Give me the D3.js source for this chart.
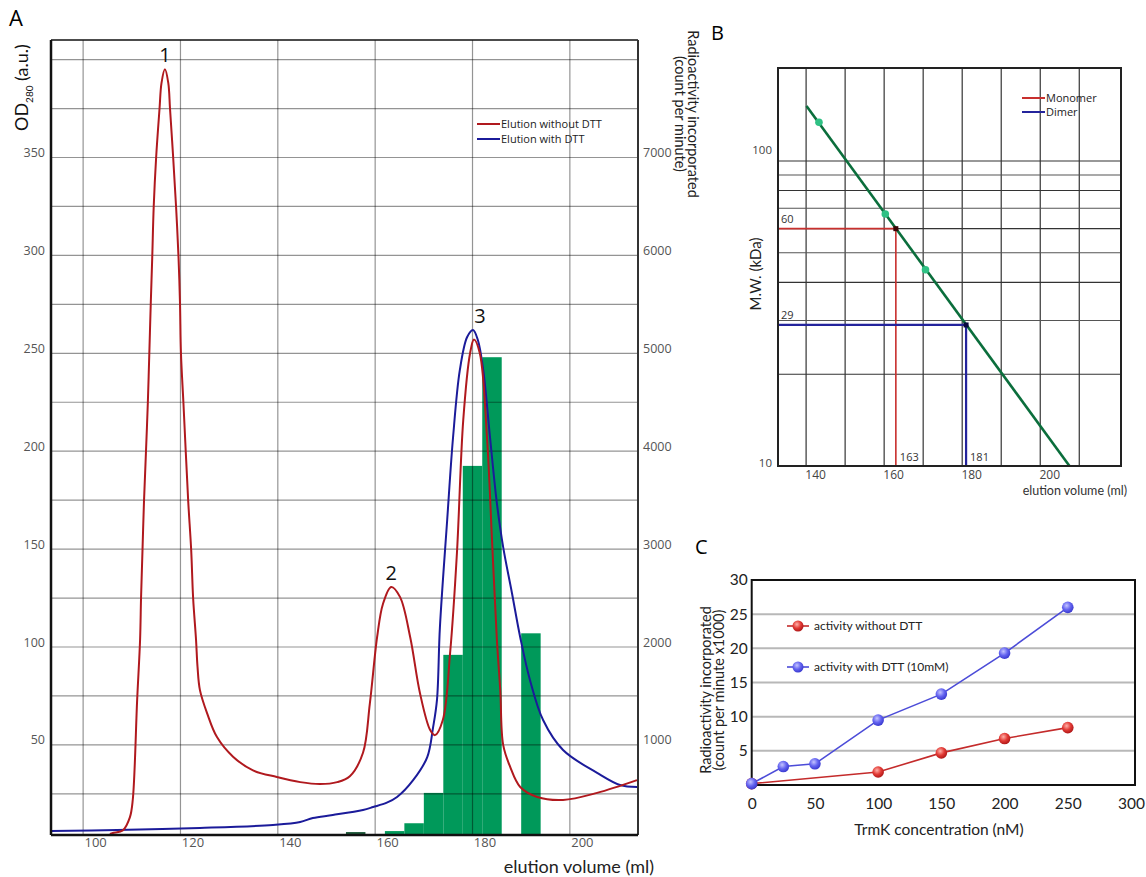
<!DOCTYPE html>
<html><head><meta charset="utf-8">
<script src="https://cdn.jsdelivr.net/npm/d3@7"></script>
<style>body{margin:0;background:#fff}svg{display:block}</style>
</head><body>
<svg id="c" width="1146" height="877"></svg>
<script>
// ---------- Panel A data ----------
const redElution = [ // [ml, OD280] without DTT
 [105.5,4.5],[106.1,5],[108.2,6.5],[109.6,13],[110.2,22],[111.1,73],[111.7,103.6],[111.9,125],[112.2,149.6],
 [112.5,174],[112.9,199],[113.3,225],[113.6,250],[113.9,275.7],[114.2,299],[114.5,324.7],[115.0,350],[115.7,375],
 [116.1,388],[116.8,395],[117.5,388],[117.85,375],[118.5,350],[119.1,324.7],[119.6,299],[119.9,275.7],[120.1,250],
 [120.6,225],[121.1,199],[121.6,174],[122.2,149.6],[122.6,125],[123.2,103.6],[123.5,90],[124.0,78],[125.5,66],
 [127.5,54],[130.8,44],[134.9,37],[139.8,33.6],
 [144.6,31],[148.7,30],[152.2,31],[154.8,34],[157.5,46],[158.9,71],[160.4,105],[161.6,122],[163.3,130.7],
 [165.1,125.6],[167.2,105],[169.2,76.5],[171.3,57.6],[172.3,55],[173.9,62.7],[175.4,97],[176.8,148],
 [178.1,216],[179.5,250],[180.3,257],[181.5,250],[183.0,206],[184.0,155],[185.0,104],[185.7,78],[186.3,50],
 [187.7,39],[189.8,28.5],[193.3,23.4],[198.6,21.9],[205.6,25.5],[213.8,32]
];
const blueElution = [ // [ml, OD280] with DTT
 [93.4,6],[107,6.6],[124,7.6],[139,9.1],[144.6,10.6],[147.2,12.7],[151.3,14.2],[157.5,16.8],[159.6,18.3],
 [162.4,20.5],[164.5,23.4],[167.8,32],[170.7,43.8],[171.9,59],[172.7,73],[173.3,110],[174.8,165],[176.0,207],
 [177.4,241.5],[178.9,258.3],[180.1,261.9],[181.1,256.8],[182.2,241.5],[183.6,207],[185.0,173.6],[186.3,151],
 [188.1,127.6],[189.8,105],[191.8,83.2],[194.5,62.7],[198.6,47.4],[205.6,35.7],[210.3,29.5],[213.8,28.5]
];
const fractionStart = [154,162,166,170,174,178,182,190];
const fractionEnd   = [158,166,170,174,178,182,186,194];
const fractionCpm   = [110,120,200,510,1920,3850,4960,2140];
const peakNames = ["1","2","3"];
const peakMl = [116.8,163.3,180.3];
const peakOD = [395,130.7,262];
const xTicksA = [100,120,140,160,180,200];
const yTicksA = [50,100,150,200,250,300,350];
const yTicksAR = [1000,2000,3000,4000,5000,6000,7000];
const legendA = ["Elution without DTT","Elution with DTT"];

// ---------- Panel B data ----------
const fitVolume = [140.1,207.5];
const fitMW = [151.4,10];
const calibVolume = [143.3,160.3,170.6];
const calibMW = [134,67,44];
const formNames = ["Monomer","Dimer"];
const formVolume = [163,181];
const formMW = [60,29];
const xTicksB = [140,160,180,200];
const yTicksB = [10,100];

// ---------- Panel C data ----------
const concNoDTT = [0,100,150,200,250];
const actNoDTT  = [0.2,1.9,4.7,6.8,8.4];
const concDTT = [0,25,50,100,150,200,250];
const actDTT  = [0.2,2.7,3.1,9.5,13.3,19.3,26];
const xTicksC = [0,50,100,150,200,250,300];
const yTicksC = [5,10,15,20,25,30];
const legendC = ["activity without DTT","activity with DTT (10mM)"];

const svg = d3.select("#c");
const F = "'Open Sans', sans-serif";
const L = "Lato, 'Open Sans', sans-serif";
const RED = "#b0191e", BLUE = "#1b1b9a";

// ================= PANEL A =================
const A = {l:51,r:638,t:40,b:835};
const xA = d3.scaleLinear([93.4,214],[A.l,A.r]);
const yA = d3.scaleLinear([4,410],[A.b,A.t]);
const yAR = d3.scaleLinear([80,8200],[A.b,A.t]);
const gA = svg.append("g");
const defs = svg.append("defs");
defs.append("clipPath").attr("id","clipA")
  .append("rect").attr("x",A.l).attr("y",A.t).attr("width",A.r-A.l).attr("height",A.b-A.t);

// bars
gA.append("g").selectAll("rect").data(fractionCpm).join("rect")
  .attr("x",(d,i)=>xA(fractionStart[i]))
  .attr("width",(d,i)=>xA(fractionEnd[i])-xA(fractionStart[i]))
  .attr("y",d=>yAR(d)).attr("height",d=>yAR(80)-yAR(d))
  .attr("fill",(d,i)=>i===0?"#1d5a3a":"#00995a");

// grid
const gridA = gA.append("g").attr("stroke","#000").attr("stroke-opacity",0.42).attr("stroke-width",1.2);
gridA.selectAll("line.v").data(xTicksA).join("line").attr("class","v")
  .attr("x1",d=>xA(d)).attr("x2",d=>xA(d)).attr("y1",A.t).attr("y2",A.b);
gridA.selectAll("line.h").data(d3.range(25,401,25)).join("line").attr("class","h")
  .attr("y1",d=>yA(d)).attr("y2",d=>yA(d)).attr("x1",A.l).attr("x2",A.r);

// curves
const lineA = d3.line().x(d=>xA(d[0])).y(d=>yA(d[1])).curve(d3.curveCatmullRom.alpha(0.5));
gA.append("path").datum(blueElution).attr("d",lineA).attr("fill","none").attr("stroke",BLUE).attr("stroke-width",2).attr("clip-path","url(#clipA)");
gA.append("path").datum(redElution).attr("d",lineA).attr("fill","none").attr("stroke",RED).attr("stroke-width",2).attr("clip-path","url(#clipA)");

// frame
gA.append("line").attr("x1",A.l).attr("x2",A.r).attr("y1",A.t).attr("y2",A.t).attr("stroke","#111").attr("stroke-width",1.6);
gA.append("line").attr("x1",A.r).attr("x2",A.r).attr("y1",A.t).attr("y2",A.b).attr("stroke","#333").attr("stroke-width",2);
gA.append("line").attr("x1",A.l).attr("x2",A.l).attr("y1",A.t).attr("y2",A.b).attr("stroke","#111").attr("stroke-width",2.5);
gA.append("line").attr("x1",A.l).attr("x2",A.r).attr("y1",A.b).attr("y2",A.b).attr("stroke","#111").attr("stroke-width",2.5);

// axes labels
function styleAxis(g, size, color){
  g.select(".domain").remove();
  g.selectAll("line").remove();
  g.selectAll("text").attr("font-family",F).attr("font-size",size).attr("fill",color);
}
const axBA = gA.append("g").attr("transform",`translate(0,${A.b})`)
  .call(d3.axisBottom(xA).tickValues(xTicksA).tickSize(0).tickPadding(3));
styleAxis(axBA,13,"#555"); axBA.selectAll("text").attr("dx",12);
const axLA = gA.append("g").attr("transform",`translate(${A.l},0)`)
  .call(d3.axisLeft(yA).tickValues(yTicksA).tickSize(0).tickPadding(6));
styleAxis(axLA,12.5,"#555"); axLA.selectAll("text").attr("dy","-0.08em");
const axRA = gA.append("g").attr("transform",`translate(${A.r},0)`)
  .call(d3.axisRight(yAR).tickValues(yTicksAR).tickFormat(d3.format("d")).tickSize(0).tickPadding(5));
styleAxis(axRA,12.5,"#555"); axRA.selectAll("text").attr("dy","-0.08em");

// titles
svg.append("text").attr("x",9).attr("y",26).attr("font-family",F).attr("font-size",22).text("A");
const od = svg.append("text").attr("transform","translate(28,131) rotate(-90)").attr("font-family",L).attr("font-size",18).attr("fill","#111");
od.append("tspan").text("OD");
od.append("tspan").attr("font-size",10).attr("dy",5).text("280");
od.append("tspan").attr("dy",-5).text(" (a.u.)");
svg.append("text").attr("x",654).attr("y",873).attr("text-anchor","end").attr("font-family",L).attr("font-size",18).attr("fill","#222").text("elution volume (ml)");
const rt = svg.append("text").attr("transform","translate(688,114) rotate(90)").attr("text-anchor","middle").attr("font-family",L).attr("font-size",14.5).attr("fill","#222");
rt.append("tspan").attr("x",0).text("Radioactivity incorporated");
rt.append("tspan").attr("x",0).attr("dy",13).text("(count per minute)");

// peak numbers
gA.selectAll("text.pk").data(peakNames).join("text").attr("class","pk")
  .attr("x",(d,i)=>xA(peakMl[i])+(i===2?6:0)).attr("y",(d,i)=>yA(peakOD[i])-7)
  .attr("text-anchor","middle").attr("font-family",F).attr("font-size",20).attr("fill","#111").text(d=>d);

// legend A
const legA = gA.append("g").attr("transform","translate(477,124)");
legA.selectAll("line").data(legendA).join("line").attr("x1",0).attr("x2",23)
  .attr("y1",(d,i)=>i*15).attr("y2",(d,i)=>i*15).attr("stroke",(d,i)=>i?BLUE:RED).attr("stroke-width",2);
legA.selectAll("text").data(legendA).join("text").attr("x",24).attr("y",(d,i)=>i*15+4)
  .attr("font-family",F).attr("font-size",11).attr("fill","#222").text(d=>d);

// ================= PANEL B =================
const B = {l:778,r:1121,t:68,b:466};
const xB = d3.scaleLinear([132.8,220.7],[B.l,B.r]);
const yB = d3.scaleLog([10,201.8],[B.b,B.t]);
const gB = svg.append("g");
const gridB = gB.append("g");
gridB.selectAll("line.v").data(d3.range(140,211,10)).join("line").attr("class","v")
  .attr("x1",d=>xB(d)).attr("x2",d=>xB(d)).attr("y1",B.t).attr("y2",B.b).attr("stroke","#222").attr("stroke-width",1.1);
gridB.selectAll("line.h").data(d3.range(20,101,10)).join("line").attr("class","h")
  .attr("y1",d=>yB(d)).attr("y2",d=>yB(d)).attr("x1",B.l).attr("x2",B.r).attr("stroke",(d,i)=>i%2?"#555":"#333").attr("stroke-width",1.1);

// monomer / dimer read-off lines
const formCol = ["#c8302e","#24249c"];
formVolume.forEach((v,i)=>{
  gB.append("path").attr("d",`M${B.l},${yB(formMW[i])}H${xB(v)}V${B.b}`)
    .attr("fill","none").attr("stroke",formCol[i]).attr("stroke-width",i?2.2:1.6);
});
// fit line
gB.append("path").datum(fitVolume.map((v,i)=>[v,fitMW[i]]))
  .attr("d",d3.line().x(d=>xB(d[0])).y(d=>yB(d[1])))
  .attr("fill","none").attr("stroke","#0b6e3c").attr("stroke-width",2.6);
gB.selectAll("circle").data(calibVolume).join("circle")
  .attr("cx",d=>xB(d)).attr("cy",(d,i)=>yB(calibMW[i])).attr("r",3.8).attr("fill","#2fc184");
gB.selectAll("rect.sq").data(formVolume).join("rect").attr("class","sq")
  .attr("x",d=>xB(d)-2.5).attr("y",(d,i)=>yB(formMW[i])-2.5).attr("width",5).attr("height",5)
  .attr("fill",(d,i)=>i?"#0a0a40":"#3a0505");
// frame
gB.append("rect").attr("x",B.l).attr("y",B.t).attr("width",B.r-B.l).attr("height",B.b-B.t)
  .attr("fill","none").attr("stroke","#222").attr("stroke-width",2);

const axBB = gB.append("g").attr("transform",`translate(0,${B.b})`)
  .call(d3.axisBottom(xB).tickValues(xTicksB).tickSize(0).tickPadding(4));
styleAxis(axBB,12,"#444"); axBB.selectAll("text").attr("dx",9);
const axLB = gB.append("g").attr("transform",`translate(${B.l},0)`)
  .call(d3.axisLeft(yB).tickValues(yTicksB).tickFormat(d3.format("d")).tickSize(0).tickPadding(6));
styleAxis(axLB,11.5,"#444"); axLB.selectAll("text").attr("dy",d=>d===100?"-0.68em":"0em");

// value labels
gB.selectAll("text.mw").data(formMW).join("text").attr("class","mw")
  .attr("x",B.l+3).attr("y",d=>yB(d)-6).attr("font-family",F).attr("font-size",11).attr("fill","#333").text(d=>d);
gB.selectAll("text.vol").data(formVolume).join("text").attr("class","vol")
  .attr("x",d=>xB(d)+4).attr("y",B.b-5).attr("font-family",F).attr("font-size",11).attr("fill","#333").text(d=>d);
// legend B
const legB = gB.append("g").attr("transform","translate(1022,98)");
legB.selectAll("line").data(formNames).join("line").attr("x1",0).attr("x2",23)
  .attr("y1",(d,i)=>i*14).attr("y2",(d,i)=>i*14).attr("stroke",(d,i)=>formCol[i]).attr("stroke-width",2);
legB.selectAll("text").data(formNames).join("text").attr("x",24).attr("y",(d,i)=>i*14+4)
  .attr("font-family",F).attr("font-size",11).attr("fill","#222").text(d=>d);

svg.append("text").attr("x",711).attr("y",40).attr("font-family",F).attr("font-size",20).text("B");
svg.append("text").attr("transform","translate(761,274) rotate(-90)").attr("text-anchor","middle")
  .attr("font-family",L).attr("font-size",15).attr("fill","#222").text("M.W. (kDa)");
svg.append("text").attr("x",1127).attr("y",495).attr("text-anchor","end").attr("font-family",L)
  .attr("font-size",12.5).attr("fill","#333").text("elution volume (ml)");

// ================= PANEL C =================
const C = {l:751.7,r:1135,t:580,b:785};
const xC = d3.scaleLinear([0,300],[C.l,1131]);
const yC = d3.scaleLinear([0,30],[C.b,C.t]);
const gC = svg.append("g");
[["gRed","#ffb0a8","#e23a35","#b01818"],["gBlue","#c4c4ff","#6464f0","#3a3ad0"]].forEach(([id,a,b,c])=>{
  const rg = defs.append("radialGradient").attr("id",id).attr("cx","40%").attr("cy","35%").attr("r","65%");
  rg.append("stop").attr("offset","0%").attr("stop-color",a);
  rg.append("stop").attr("offset","55%").attr("stop-color",b);
  rg.append("stop").attr("offset","100%").attr("stop-color",c);
});
gC.selectAll("line.h").data(d3.range(5,26,5)).join("line").attr("class","h")
  .attr("x1",C.l).attr("x2",C.r).attr("y1",d=>yC(d)).attr("y2",d=>yC(d))
  .attr("stroke","#b8b8b8").attr("stroke-width",2);
gC.append("rect").attr("x",C.l).attr("y",C.t).attr("width",C.r-C.l).attr("height",C.b-C.t)
  .attr("fill","none").attr("stroke","#111").attr("stroke-width",2);
const lineC = d3.line().x(d=>xC(d[0])).y(d=>yC(d[1]));
const seriesC = [
  {x:concNoDTT,y:actNoDTT,stroke:"#c42b2b",fill:"url(#gRed)"},
  {x:concDTT,y:actDTT,stroke:"#4c4cd8",fill:"url(#gBlue)"}
];
seriesC.forEach(s=>{
  const pts = s.x.map((v,i)=>[v,s.y[i]]);
  gC.append("path").datum(pts).attr("d",lineC).attr("fill","none").attr("stroke",s.stroke).attr("stroke-width",1.6);
});
seriesC.forEach(s=>{
  const pts = s.x.map((v,i)=>[v,s.y[i]]);
  gC.append("g").selectAll("circle").data(pts).join("circle")
    .attr("cx",d=>xC(d[0])).attr("cy",d=>yC(d[1])).attr("r",5.8).attr("fill",s.fill);
});
const axBC = gC.append("g").attr("transform",`translate(0,${C.b})`)
  .call(d3.axisBottom(xC).tickValues(xTicksC).tickSize(0).tickPadding(13));
styleAxis(axBC,15,"#222"); axBC.selectAll("text").attr("font-family",L).attr("font-size",15.5);
const axLC = gC.append("g").attr("transform",`translate(${C.l},0)`)
  .call(d3.axisLeft(yC).tickValues(yTicksC).tickSize(0).tickPadding(4));
styleAxis(axLC,15,"#222"); axLC.selectAll("text").attr("font-family",L).attr("font-size",15.5);

// legend C
const legC = gC.append("g").attr("transform","translate(787,626)");
legendC.forEach((t,i)=>{
  const g = legC.append("g").attr("transform",`translate(0,${i*41})`);
  g.append("line").attr("x1",0).attr("x2",22).attr("stroke",seriesC[i].stroke).attr("stroke-width",1.6);
  g.append("circle").attr("cx",11).attr("r",5.5).attr("fill",seriesC[i].fill);
  g.append("text").attr("x",27).attr("y",4).attr("font-family",L).attr("font-size",12).attr("fill","#222").text(t);
});
svg.append("text").attr("x",695).attr("y",554).attr("font-family",F).attr("font-size",20).text("C");
const yt = svg.append("text").attr("transform","translate(711,690) rotate(-90)").attr("text-anchor","middle")
  .attr("font-family",L).attr("font-size",14.5).attr("fill","#222");
yt.append("tspan").attr("x",0).text("Radioactivity incorporated");
yt.append("tspan").attr("x",0).attr("dy",13).text("(count per minute x1000)");
svg.append("text").attr("x",939).attr("y",835).attr("text-anchor","middle").attr("font-family",L)
  .attr("font-size",15.5).attr("fill","#222").text("TrmK concentration (nM)");
</script>
</body></html>
